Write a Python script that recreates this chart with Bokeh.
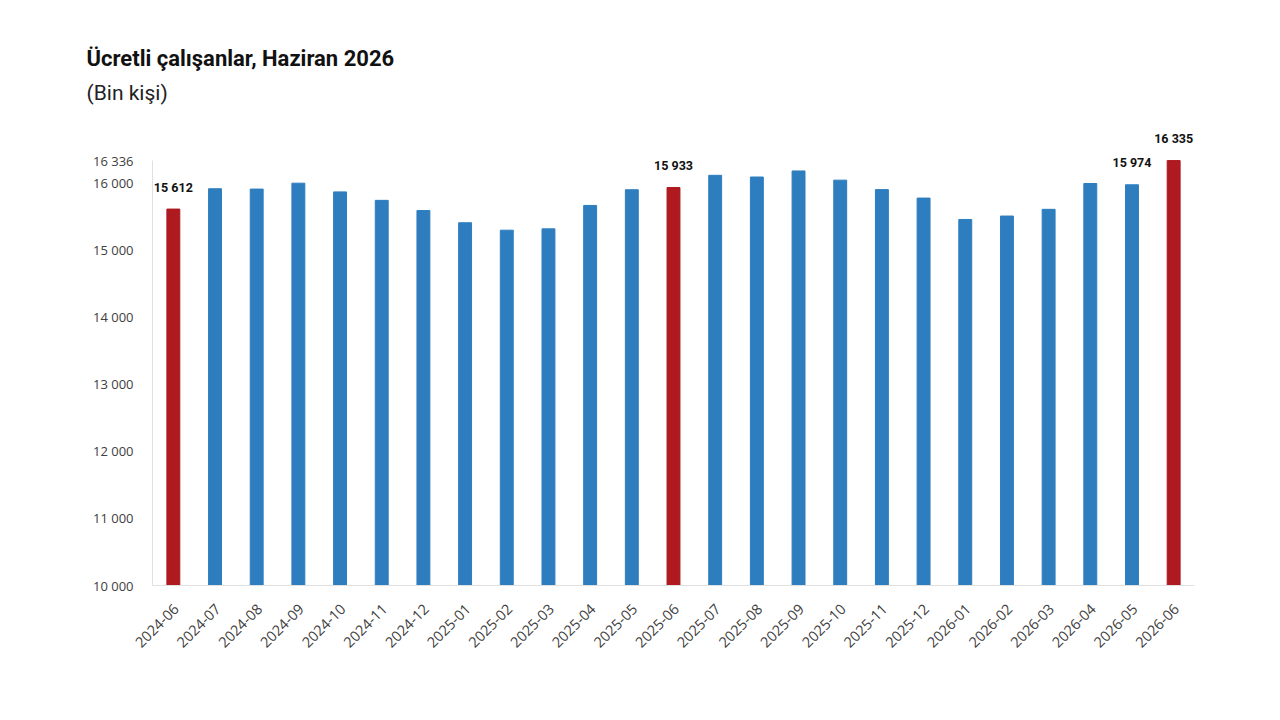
from bokeh.plotting import figure
from bokeh.models import Range1d, ColumnDataSource
from bokeh.core.properties import value
from bokeh.embed import file_html
from bokeh.resources import INLINE
import math

months = ["2024-06", "2024-07", "2024-08", "2024-09", "2024-10", "2024-11", "2024-12",
          "2025-01", "2025-02", "2025-03", "2025-04", "2025-05", "2025-06", "2025-07",
          "2025-08", "2025-09", "2025-10", "2025-11", "2025-12", "2026-01", "2026-02",
          "2026-03", "2026-04", "2026-05", "2026-06"]
employees = [15612, 15915, 15910, 15998, 15868, 15742, 15590, 15408, 15297, 15317, 15666,
             15900, 15933, 16115, 16090, 16180, 16043, 15902, 15776, 15457, 15508, 15608,
             15993, 15974, 16335]
highlight = ["2024-06", "2025-06", "2026-06"]
labelled = ["2024-06", "2025-06", "2026-05", "2026-06"]
y_ticks = [10000, 11000, 12000, 13000, 14000, 15000, 16000, 16336]

title = "Ücretli çalışanlar, Haziran 2026"
subtitle = "(Bin kişi)"

BLUE = "#2E7EBF"
RED = "#AE1A1F"
GREY = "#404040"


def fmt(v):
    return f"{v:,}".replace(",", " ")


W, H = 1264, 704
# pixel layout of the plotting area inside the canvas
left_px, right_px, top_px, bottom_px = 152, 1194, 160, 585
n = len(months)
pitch = (right_px - left_px) / n
ky = (bottom_px - top_px) / (y_ticks[-1] - y_ticks[0])
x0 = -0.5 - left_px / pitch
y0 = y_ticks[0] - (H - bottom_px) / ky

p = figure(width=W, height=H, output_backend="svg", toolbar_location=None,
           x_range=Range1d(x0, x0 + W / pitch), y_range=Range1d(y0, y0 + H / ky),
           x_axis_location=None, y_axis_location=None, min_border=0)
p.grid.visible = False
p.outline_line_color = None

idx = list(range(n))
colors = [RED if m in highlight else BLUE for m in months]
src = ColumnDataSource(dict(i=idx, v=employees, c=colors))
p.vbar(x="i", top="v", bottom=y_ticks[0], width=0.31, color="c", source=src)

# axes
p.segment(x0=[-0.5], y0=[y_ticks[0]], x1=[-0.5], y1=[y_ticks[-1]], line_color="#e0e0e0", line_width=1)
p.segment(x0=[-0.5], y0=[y_ticks[0]], x1=[n - 0.5], y1=[y_ticks[0]], line_color="#e0e0e0", line_width=1)

p.text(x=[-0.5] * len(y_ticks), y=y_ticks, text=[fmt(t) for t in y_ticks], x_offset=-19,
       text_align="right", text_baseline="middle", text_font=value("Open Sans"),
       text_font_size="13px", text_color=GREY)

p.text(x=idx, y=[y_ticks[0]] * n, text=months, angle=math.pi / 4, x_offset=3, y_offset=21,
       text_align="right", text_baseline="middle", text_font=value("Open Sans"),
       text_font_size="14.5px", text_color=GREY)

# value labels
lab = ColumnDataSource(dict(
    i=[i for i, m in enumerate(months) if m in labelled],
    v=[v for m, v in zip(months, employees) if m in labelled],
    t=[fmt(v) for m, v in zip(months, employees) if m in labelled],
))
p.text(x="i", y="v", text="t", source=lab, y_offset=-22, text_align="center",
       text_baseline="middle", text_font=value("Roboto"), text_font_style="bold",
       text_font_size="12.5px", text_color="#111111")

# titles
tx = (86 - left_px) / pitch - 0.5
p.text(x=[tx], y=[y_ticks[0] + (bottom_px - 58) / ky], text=[title], text_align="left",
       text_baseline="middle", text_font=value("Roboto"), text_font_style="bold",
       text_font_size="22px", text_color="#111111")
p.text(x=[tx], y=[y_ticks[0] + (bottom_px - 92) / ky], text=[subtitle], text_align="left",
       text_baseline="middle", text_font=value("Roboto"), text_font_size="21px",
       text_color="#222222")

open("out.html", "w").write(file_html(p, INLINE))
